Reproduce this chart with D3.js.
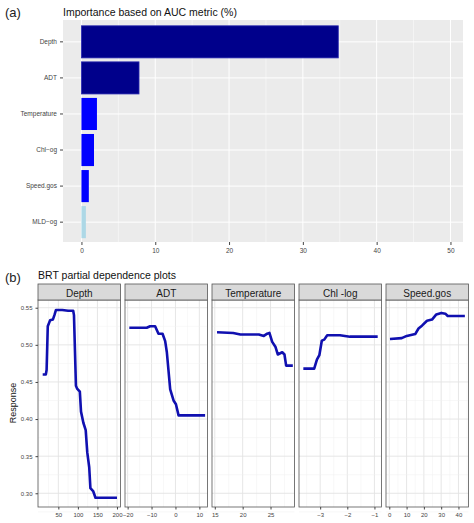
<!DOCTYPE html>
<html><head><meta charset="utf-8">
<script src="https://cdn.jsdelivr.net/npm/d3@7"></script>
<style>body{margin:0;background:#fff}svg{font-family:"Liberation Sans",Arial,sans-serif}</style>
</head><body><svg id="c" width="474" height="523"></svg>
<script>
const impVars = ["Depth","ADT","Temperature","Chl\u2212og","Speed.gos","MLD\u2212og"];
const impVals = [34.8, 7.8, 2.1, 1.7, 1.0, 0.6];
const impCols = ["#00008B","#00008B","#0000FF","#0000FF","#0000FF","#ADD8E6"];
const impTicks = [0,10,20,30,40,50];

const panelNames = ["Depth","ADT","Temperature","Chl -log","Speed.gos"];
const panelDomains = [[-2,209],[-21.1,13.4],[14.5,29.3],[-3.78,-0.74],[-1.9,45.8]];
const panelTicks = [[50,100,150,200],[-20,-10,0,10],[15,20,25],[-3,-2,-1],[0,10,20,30,40]];
const depthX = [10,18,20,23,29,36,40,44,60,75,88,90,95,98,105,108,114,120,124,129,132,139,145,200];
const depthY = [0.46,0.46,0.466,0.525,0.533,0.534,0.54,0.547,0.547,0.546,0.546,0.54,0.445,0.441,0.437,0.41,0.395,0.385,0.355,0.335,0.307,0.303,0.294,0.294];
const adtX = [-19.3,-12,-10.6,-8.5,-7.1,-5.4,-4.3,-3.6,-2.2,-0.8,0.2,1.3,12.4];
const adtY = [0.523,0.523,0.525,0.525,0.515,0.515,0.505,0.49,0.44,0.425,0.42,0.405,0.405];
const tempX = [15.4,18.3,19.6,22.9,23.8,24.4,24.8,25.3,25.9,26.3,27.1,27.5,27.8,29];
const tempY = [0.517,0.516,0.514,0.514,0.512,0.515,0.516,0.504,0.497,0.487,0.49,0.487,0.472,0.472];
const chlX = [-3.62,-3.22,-3.12,-3.03,-2.94,-2.85,-2.74,-2.27,-2.09,-1.9,-0.88];
const chlY = [0.468,0.468,0.48,0.486,0.5056,0.507,0.513,0.513,0.512,0.511,0.511];
const spdX = [0.4,7.2,10.1,15,16.9,18.9,21.8,24.7,27.2,30.1,32.4,33.8,43.7];
const spdY = [0.5078,0.509,0.512,0.5145,0.522,0.5258,0.5325,0.534,0.541,0.543,0.542,0.5388,0.5388];
const respTicks = [0.30,0.35,0.40,0.45,0.50,0.55];

const svg = d3.select("#c");
// ---- panel (a)
svg.append("text").attr("x",5).attr("y",17).attr("font-size",13).attr("fill","#222").text("(a)");
svg.append("text").attr("x",63).attr("y",16).attr("font-size",10.5).attr("fill","#111").text("Importance based on AUC metric (%)");
const ax = d3.scaleLinear().domain([-2.5,51.7]).range([63,463]);
const ay = d3.scaleBand().domain(impVars).range([24,240]).paddingInner(0.11).paddingOuter(0.05);
const g = svg.append("g");
g.append("rect").attr("x",63).attr("y",20).attr("width",400).attr("height",222).attr("fill","#EBEBEB");
d3.range(5,51,10).forEach(v=>g.append("line").attr("x1",ax(v)).attr("x2",ax(v)).attr("y1",20).attr("y2",242).attr("stroke","#fff").attr("stroke-width",0.5));
impTicks.forEach(v=>g.append("line").attr("x1",ax(v)).attr("x2",ax(v)).attr("y1",20).attr("y2",242).attr("stroke","#fff").attr("stroke-width",1));
impVars.forEach(v=>g.append("line").attr("x1",63).attr("x2",463).attr("y1",ay(v)+ay.bandwidth()/2).attr("y2",ay(v)+ay.bandwidth()/2).attr("stroke","#fff").attr("stroke-width",1));
g.selectAll(".bar").data(impVars).join("rect").attr("x",ax(0)).attr("y",d=>ay(d))
 .attr("width",(d,i)=>ax(impVals[i])-ax(0)).attr("height",ay.bandwidth())
 .attr("fill",(d,i)=>impCols[i]).attr("stroke",(d,i)=>i<2?"#2a2ab0":"none").attr("stroke-width",0.8);
const xa = g.append("g").attr("transform","translate(0,242)").call(d3.axisBottom(ax).tickValues(impTicks).tickSize(3));
const ya = g.append("g").attr("transform","translate(63,0)").call(d3.axisLeft(ay).tickSize(3));
[xa,ya].forEach(a=>{a.select(".domain").remove();a.selectAll("line").attr("stroke","#444");a.selectAll("text").attr("font-size",6.5).attr("fill","#444");});

// ---- panel (b)
svg.append("text").attr("x",5).attr("y",282).attr("font-size",13).attr("fill","#222").text("(b)");
svg.append("text").attr("x",38).attr("y",279).attr("font-size",10.5).attr("fill","#111").text("BRT partial dependence plots");
svg.append("text").attr("transform","translate(16,403) rotate(-90)").attr("text-anchor","middle").attr("font-size",9).attr("fill","#111").text("Response");
const py = d3.scaleLinear().domain([0.2815,0.5604]).range([507,300]);
const lefts = [38,125,212,299,386], width = 82.5;
const lines = [[depthX,depthY],[adtX,adtY],[tempX,tempY],[chlX,chlY],[spdX,spdY]];
panelNames.forEach((name,i)=>{
  const px = d3.scaleLinear().domain(panelDomains[i]).range([lefts[i],lefts[i]+width]);
  const pg = svg.append("g");
  pg.append("rect").attr("x",lefts[i]).attr("y",300).attr("width",width).attr("height",207).attr("fill","#fff");
  const tk = panelTicks[i], step = tk[1]-tk[0];
  const minor = d3.range(tk[0]-step*2, tk[tk.length-1]+step*2, step/2).filter(v=>v>panelDomains[i][0]&&v<panelDomains[i][1]);
  minor.forEach(v=>pg.append("line").attr("x1",px(v)).attr("x2",px(v)).attr("y1",300).attr("y2",507).attr("stroke",tk.some(t=>Math.abs(t-v)<1e-9)?"#e3e3e3":"#f1f1f1").attr("stroke-width",tk.some(t=>Math.abs(t-v)<1e-9)?0.9:0.5));
  d3.range(0.275,0.565,0.025).forEach(v=>{const maj=respTicks.some(t=>Math.abs(t-v)<1e-6);
    pg.append("line").attr("x1",lefts[i]).attr("x2",lefts[i]+width).attr("y1",py(v)).attr("y2",py(v)).attr("stroke",maj?"#e3e3e3":"#f1f1f1").attr("stroke-width",maj?0.9:0.5);});
  pg.append("path").datum(lines[i][0].map((x,j)=>[x,lines[i][1][j]]))
    .attr("d",d3.line().x(d=>px(d[0])).y(d=>py(d[1]))).attr("fill","none").attr("stroke","#1010B0").attr("stroke-width",2.6).attr("stroke-linejoin","round");
  pg.append("rect").attr("x",lefts[i]).attr("y",300).attr("width",width).attr("height",207).attr("fill","none").attr("stroke","#555").attr("stroke-width",0.8);
  pg.append("rect").attr("x",lefts[i]).attr("y",284).attr("width",width).attr("height",16).attr("fill","#D9D9D9").attr("stroke","#555").attr("stroke-width",0.8);
  pg.append("text").attr("x",lefts[i]+width/2).attr("y",296.5).attr("text-anchor","middle").attr("font-size",10).attr("fill","#1a1a1a").text(name);
  const a = pg.append("g").attr("transform","translate(0,507)").call(d3.axisBottom(px).tickValues(tk).tickFormat(d3.format("d")).tickSize(2.5));
  a.select(".domain").remove(); a.selectAll("line").attr("stroke","#444"); a.selectAll("text").attr("font-size",6).attr("fill","#444");
});
const ra = svg.append("g").attr("transform","translate(38,0)").call(d3.axisLeft(py).tickValues(respTicks).tickFormat(d3.format(".2f")).tickSize(2.5));
ra.select(".domain").remove(); ra.selectAll("line").attr("stroke","#444"); ra.selectAll("text").attr("font-size",6).attr("fill","#444");
</script></body></html>
